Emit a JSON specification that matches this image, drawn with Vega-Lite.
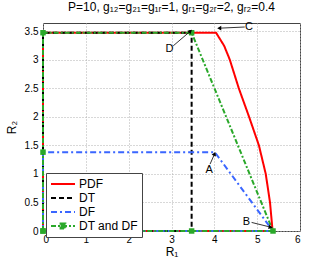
{
  "$schema": "https://vega.github.io/schema/vega-lite/v6.json",
  "width": 257,
  "height": 208,
  "autosize": {"type": "none"},
  "padding": {"left": 43, "top": 23, "right": 32, "bottom": 31},
  "background": "white",
  "config": {
    "view": {"stroke": "#444", "strokeWidth": 1},
    "font": "Liberation Sans"
  },
  "title": {
    "text": "P=10, g₁₂=g₂₁=g₁ᵣ=1, gᵣ₁=g₂ᵣ=2, gᵣ₂=0.4",
    "font": "Liberation Sans",
    "fontSize": 12,
    "fontWeight": "normal",
    "color": "#000",
    "offset": 7
  },
  "datasets": {
    "lines": [
      {"s": "PDF", "i": 0, "x": 0, "y": 0},
      {"s": "PDF", "i": 1, "x": 0, "y": 3.47},
      {"s": "PDF", "i": 2, "x": 4.04, "y": 3.47},
      {"s": "PDF", "i": 3, "x": 4.23, "y": 3.24},
      {"s": "PDF", "i": 4, "x": 4.36, "y": 3.0},
      {"s": "PDF", "i": 5, "x": 4.57, "y": 2.5},
      {"s": "PDF", "i": 6, "x": 4.81, "y": 2.0},
      {"s": "PDF", "i": 7, "x": 5.04, "y": 1.5},
      {"s": "PDF", "i": 8, "x": 5.2, "y": 1.0},
      {"s": "PDF", "i": 9, "x": 5.3, "y": 0.5},
      {"s": "PDF", "i": 10, "x": 5.36, "y": 0},
      {"s": "PDF", "i": 11, "x": 0, "y": 0},
      {"s": "DT", "i": 0, "x": 0, "y": 0},
      {"s": "DT", "i": 1, "x": 0, "y": 3.47},
      {"s": "DT", "i": 2, "x": 3.47, "y": 3.47},
      {"s": "DT", "i": 3, "x": 3.47, "y": 0},
      {"s": "DT", "i": 4, "x": 0, "y": 0},
      {"s": "DF", "i": 0, "x": 0, "y": 0},
      {"s": "DF", "i": 1, "x": 0, "y": 1.38},
      {"s": "DF", "i": 2, "x": 4.01, "y": 1.38},
      {"s": "DF", "i": 3, "x": 5.37, "y": 0},
      {"s": "DF", "i": 4, "x": 0, "y": 0},
      {"s": "DT and DF", "i": 0, "x": 0, "y": 0},
      {"s": "DT and DF", "i": 1, "x": 0, "y": 1.38},
      {"s": "DT and DF", "i": 2, "x": 0, "y": 3.47},
      {"s": "DT and DF", "i": 3, "x": 3.47, "y": 3.47},
      {"s": "DT and DF", "i": 4, "x": 5.37, "y": 0},
      {"s": "DT and DF", "i": 5, "x": 3.47, "y": 0},
      {"s": "DT and DF", "i": 6, "x": 0, "y": 0}
    ],
    "arrows": [
      {"label": "A", "x": 3.9, "y": 1.17, "x2": 4.0, "y2": 1.34},
      {"label": "B", "x": 4.87, "y": 0.15, "x2": 5.3, "y2": 0.07},
      {"label": "C", "x": 4.71, "y": 3.57, "x2": 4.13, "y2": 3.55},
      {"label": "D", "x": 3.04, "y": 3.24, "x2": 3.43, "y2": 3.49}
    ],
    "heads": [
      {"label": "A", "x": 4.0, "y": 1.34},
      {"label": "B", "x": 5.3, "y": 0.07},
      {"label": "C", "x": 4.13, "y": 3.55},
      {"label": "D", "x": 3.43, "y": 3.49}
    ],
    "labels": [
      {"label": "A", "x": 3.88, "y": 1.06},
      {"label": "B", "x": 4.75, "y": 0.15},
      {"label": "C", "x": 4.81, "y": 3.57},
      {"label": "D", "x": 2.95, "y": 3.19}
    ]
  },
  "encoding": {
    "x": {
      "field": "x", "type": "quantitative",
      "scale": {"domain": [0, 6], "nice": false, "zero": false},
      "axis": {
        "values": [0, 1, 2, 3, 4, 5, 6], "format": "~g", "labelOverlap": false,
        "title": "R₁", "titleFont": "Liberation Sans", "titleFontSize": 12, "titleFontWeight": "normal", "titleColor": "#000", "titlePadding": 2,
        "labelFont": "Liberation Sans", "labelFontSize": 10, "labelColor": "#000", "labelPadding": 3,
        "grid": true, "gridDash": [1, 2], "gridColor": "#b0b0b0", "gridWidth": 1,
        "ticks": false, "domain": false
      }
    },
    "y": {
      "field": "y", "type": "quantitative",
      "scale": {"domain": [0, 3.64], "nice": false, "zero": false},
      "axis": {
        "values": [0, 0.5, 1, 1.5, 2, 2.5, 3, 3.5], "format": "~g", "labelOverlap": false,
        "title": "R₂", "titleFont": "Liberation Sans", "titleFontSize": 12, "titleFontWeight": "normal", "titleColor": "#000", "titlePadding": 6,
        "labelFont": "Liberation Sans", "labelFontSize": 10, "labelColor": "#000", "labelPadding": 5,
        "grid": true, "gridDash": [1, 2], "gridColor": "#b0b0b0", "gridWidth": 1,
        "ticks": false, "domain": false
      }
    }
  },
  "layer": [
    {
      "data": {"name": "lines"},
      "mark": {"type": "line", "clip": false, "strokeCap": "butt"},
      "encoding": {
        "color": {
          "field": "s", "type": "nominal",
          "scale": {"domain": ["PDF", "DT", "DF", "DT and DF"], "range": ["#ff0000", "#000000", "#3a66ff", "#2aa82a"]},
          "legend": {
            "title": null, "orient": "none", "legendX": 3, "legendY": 150, "direction": "vertical",
            "fillColor": "white", "strokeColor": "#444", "padding": 4,
            "labelFont": "Liberation Sans", "labelFontSize": 12, "labelColor": "#000", "labelOffset": 15,
            "symbolSize": 144, "symbolStrokeWidth": 2, "rowPadding": 1,
            "encode": {
              "symbols": {
                "update": {
                  "shape": {"signal": "datum.value === 'DT and DF' ? 'M-1,0H3M0.6,-0.4H1.4V0.4H0.6Z' : 'M-1,0H3'"},
                  "fill": {"signal": "datum.value === 'DT and DF' ? '#2aa82a' : 'transparent'"}
                }
              }
            }
          }
        },
        "strokeDash": {
          "field": "s", "type": "nominal",
          "scale": {"domain": ["PDF", "DT", "DF", "DT and DF"], "range": [[1, 0], [5, 3], [6, 3, 2, 3], [5, 2, 2, 2]]}
        },
        "strokeWidth": {
          "field": "s", "type": "nominal",
          "scale": {"domain": ["PDF", "DT", "DF", "DT and DF"], "range": [2, 2, 1.6, 2]},
          "legend": null
        },
        "order": {"field": "i", "type": "quantitative"}
      }
    },
    {
      "data": {"name": "lines"},
      "transform": [{"filter": "datum.s === 'DT and DF'"}],
      "mark": {"type": "point", "shape": "square", "filled": true, "size": 30, "color": "#2aa82a", "opacity": 1, "clip": false}
    },
    {
      "data": {"name": "arrows"},
      "mark": {"type": "rule", "color": "#000", "strokeWidth": 0.8},
      "encoding": {
        "x2": {"field": "x2"},
        "y2": {"field": "y2"}
      }
    },
    {
      "data": {"name": "heads"},
      "transform": [{"filter": "datum.label === 'A'"}],
      "mark": {"type": "point", "shape": "triangle", "filled": true, "size": 22, "color": "#000", "opacity": 1, "angle": 22}
    },
    {
      "data": {"name": "heads"},
      "transform": [{"filter": "datum.label === 'B'"}],
      "mark": {"type": "point", "shape": "triangle", "filled": true, "size": 22, "color": "#000", "opacity": 1, "angle": 105}
    },
    {
      "data": {"name": "heads"},
      "transform": [{"filter": "datum.label === 'C'"}],
      "mark": {"type": "point", "shape": "triangle", "filled": true, "size": 22, "color": "#000", "opacity": 1, "angle": 270}
    },
    {
      "data": {"name": "heads"},
      "transform": [{"filter": "datum.label === 'D'"}],
      "mark": {"type": "point", "shape": "triangle", "filled": true, "size": 22, "color": "#000", "opacity": 1, "angle": 50}
    },
    {
      "data": {"name": "labels"},
      "mark": {"type": "text", "font": "Liberation Sans", "fontSize": 11, "color": "#000", "align": "center", "baseline": "middle"},
      "encoding": {
        "text": {"field": "label"}
      }
    }
  ]
}
